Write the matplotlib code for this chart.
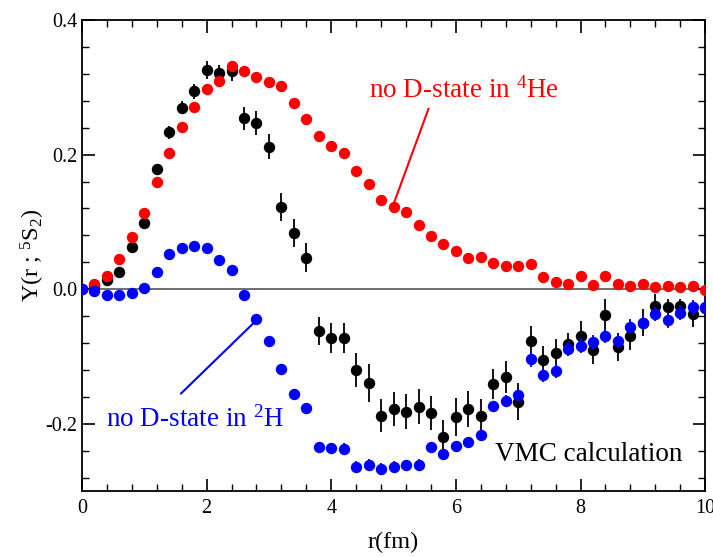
import numpy as np
import matplotlib.pyplot as plt

plt.rcParams['font.family'] = ['Liberation Serif', 'DejaVu Serif']
plt.rcParams['mathtext.fontset'] = 'custom'
plt.rcParams['mathtext.rm'] = 'Liberation Serif'
plt.rcParams['mathtext.it'] = 'Liberation Serif:italic'

r = np.arange(51) * 0.2  # radial grid, 0 .. 10 fm

# no D-state in 4He (red, no error bars)
y_he = [0.000, 0.007, 0.020, 0.045, 0.077, 0.113, 0.160, 0.203, 0.241, 0.271,
        0.298, 0.310, 0.331, 0.324, 0.315, 0.308, 0.302, 0.276, 0.253, 0.228,
        0.213, 0.202, 0.175, 0.156, 0.133, 0.122, 0.114, 0.096, 0.079, 0.067,
        0.057, 0.047, 0.048, 0.039, 0.034, 0.035, 0.037, 0.018, 0.010, 0.007,
        0.020, 0.006, 0.020, 0.008, 0.004, 0.008, 0.003, 0.005, 0.003, 0.005,
        -0.001]

# VMC calculation (black)
y_vmc = [0.000, 0.004, 0.013, 0.025, 0.062, 0.099, 0.178, 0.233, 0.270, 0.294,
         0.326, 0.321, 0.324, 0.254, 0.247, 0.212, 0.122, 0.084, 0.047, -0.062,
         -0.073, -0.073, -0.120, -0.139, -0.188, -0.178, -0.182, -0.175, -0.184, -0.219,
         -0.190, -0.178, -0.189, -0.141, -0.131, -0.167, -0.077, -0.105, -0.095, -0.082,
         -0.069, -0.091, -0.038, -0.086, -0.069, -0.050, -0.025, -0.027, -0.025, -0.037,
         -0.028]
e_vmc = [0.000, 0.002, 0.004, 0.004, 0.004, 0.005, 0.008, 0.010, 0.010, 0.011,
         0.013, 0.012, 0.014, 0.017, 0.018, 0.019, 0.021, 0.021, 0.021, 0.021,
         0.022, 0.022, 0.025, 0.028, 0.025, 0.025, 0.026, 0.026, 0.025, 0.025,
         0.028, 0.027, 0.026, 0.023, 0.024, 0.027, 0.022, 0.020, 0.021, 0.017,
         0.021, 0.020, 0.023, 0.021, 0.021, 0.020, 0.018, 0.012, 0.010, 0.019,
         0.010]

# no D-state in 2H (blue)
y_h = [0.000, -0.003, -0.008, -0.009, -0.006, 0.002, 0.025, 0.053, 0.061, 0.064,
       0.061, 0.043, 0.029, -0.009, -0.045, -0.077, -0.118, -0.156, -0.176, -0.235,
       -0.236, -0.237, -0.264, -0.261, -0.267, -0.264, -0.262, -0.261, -0.235, -0.245,
       -0.233, -0.227, -0.217, -0.174, -0.166, -0.158, -0.104, -0.127, -0.121, -0.089,
       -0.084, -0.079, -0.069, -0.077, -0.056, -0.050, -0.037, -0.046, -0.035, -0.027,
       -0.027]
e_h = [0.002] * 14 + [0.004] * 5 + [0.008] * 17 + [0.011] * 15

fig = plt.figure(figsize=(7.13, 5.57), dpi=100)
ax = fig.add_axes([0.115, 0.1185, 0.874, 0.8455])

ax.axhline(0, color='#555555', lw=1.2, zorder=1)

ax.errorbar(r, y_vmc, yerr=e_vmc, fmt='o', color='black', ms=7.2, elinewidth=1.3,
            capsize=0, zorder=2)
ax.plot(r, y_he, 'o', color='red', ms=7.2, zorder=3)
ax.errorbar(r, y_h, yerr=e_h, fmt='o', color='blue', ms=7.2, elinewidth=1.3,
            capsize=0, zorder=4)

# labels and pointer lines
ax.text(4.61, 0.284, r'no D-state in $^{4}$He', color='red', fontsize=19.5)
ax.plot([5.01, 5.56], [0.129, 0.268], color='red', lw=1.5)
ax.text(0.385, -0.205, r'no D-state in $^{2}$H', color='blue', fontsize=19.5)
ax.plot([2.78, 1.59], [-0.048, -0.155], color='blue', lw=1.5)
ax.text(6.62, -0.255, 'VMC calculation', color='black', fontsize=19.5)

ax.set_xlim(0, 10)
ax.set_ylim(-0.3, 0.4)
ax.set_xticks([0, 2, 4, 6, 8, 10])
ax.set_xticks(np.arange(0, 10.01, 0.4), minor=True)
ax.set_yticks([-0.2, 0.0, 0.2, 0.4])
ax.set_yticklabels(['-0.2', '0.0', '0.2', '0.4'])
ax.set_yticks(np.arange(-0.28, 0.401, 0.04), minor=True)
ax.tick_params(which='both', direction='in', top=True, right=True, labelsize=14.5)
ax.tick_params(which='major', length=9, width=1.2)
ax.tick_params(which='minor', length=5, width=1.0)
ax.tick_params(axis='x', pad=6)
for s in ax.spines.values():
    s.set_linewidth(1.3)

ax.set_xlabel('r(fm)', fontsize=17.5, labelpad=10)
ax.set_ylabel(r'Y(r ; $^{5}$S$_{2}$)', fontsize=17.5, labelpad=-1)

plt.savefig('out.png', dpi=100)
